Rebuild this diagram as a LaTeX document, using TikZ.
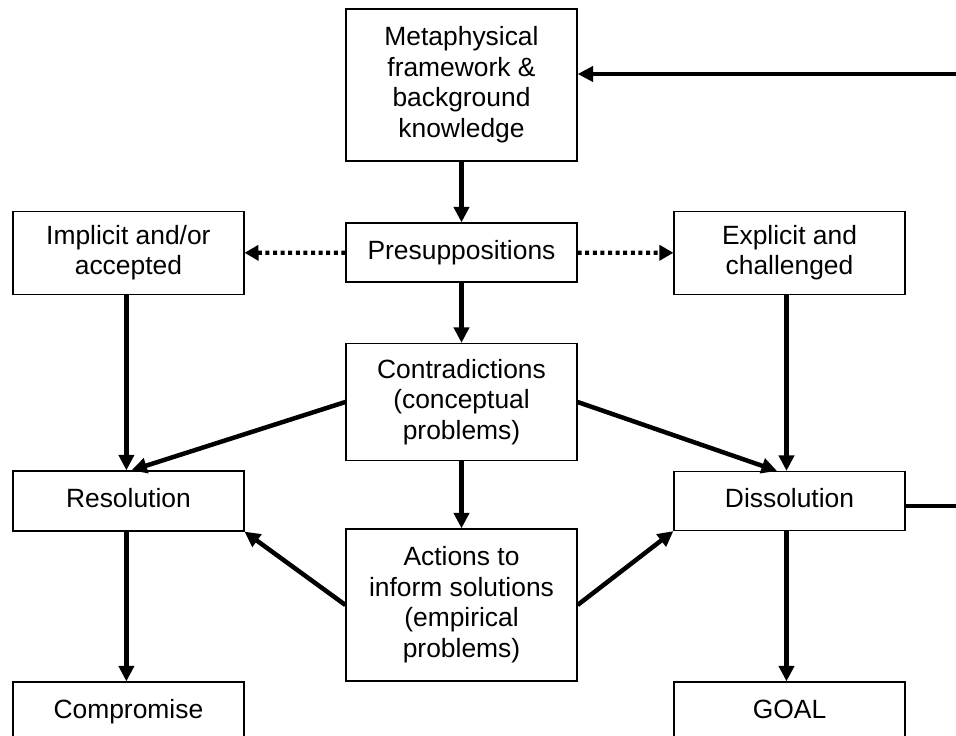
\documentclass[tikz,border=0pt]{standalone}
\usepackage{fontspec}
\setmainfont{Liberation Sans}
\usetikzlibrary{arrows.meta}
\begin{document}
\begin{tikzpicture}[x=1pt,y=-1pt,
  box/.style={draw, line width=1.2pt, minimum width=231pt, inner sep=0pt, align=center,
    font=\fontsize{26.4}{30.5}\selectfont, text depth=6pt},
  arr/.style={line width=4.5pt, -{Triangle[length=15.5pt,width=15pt]}},
  dotarr/.style={line width=4.3pt, dash pattern=on 4pt off 3.6pt, -{Triangle[length=14pt,width=15pt]}}]
\useasboundingbox (0,0) rectangle (956,736);
\clip (0,0) rectangle (956,736);
\fill[white] (0,0) rectangle (956,736);

\node[box, minimum height=152pt] (meta) at (461.5,85) {Metaphysical\\framework \&\\background\\knowledge};
\node[box, minimum height=59pt] (presup) at (461.5,252.5) {Presuppositions};
\node[box, minimum height=83pt] (impl) at (128.4,253) {Implicit and/or\\accepted};
\node[box, minimum height=83pt] (expl) at (789.5,253) {Explicit and\\challenged};
\node[box, minimum height=117pt] (contr) at (461.5,402) {Contradictions\\(conceptual\\problems)};
\node[box, minimum height=60pt] (resol) at (128.4,501) {Resolution};
\node[box, minimum height=59pt] (dissol) at (789.5,501) {Dissolution};
\node[box, minimum height=152pt] (act) at (461.5,605) {Actions to\\inform solutions\\(empirical\\problems)};
\node[box, minimum height=60pt] (compr) at (128.4,712) {Compromise};
\node[box, minimum height=60pt] (goal) at (789.5,712) {GOAL};

\draw[arr] (meta) -- (presup);
\draw[dotarr] (presup) -- (impl);
\draw[dotarr] (presup) -- (expl);
\draw[arr] (presup) -- (contr);
\draw[arr] ([xshift=-2pt]impl.south) -- ([xshift=-2pt]resol.north);
\draw[arr] ([xshift=-3pt]expl.south) -- ([xshift=-3pt]dissol.north);
\draw[arr] (contr.west) -- ([xshift=3pt]resol.north);
\draw[arr] (contr.east) -- ([xshift=-12.5pt]dissol.north);
\draw[arr] (contr) -- (act);
\draw[arr] (act.west) -- (resol.south east);
\draw[arr] (act.east) -- (dissol.south west);
\draw[arr] ([xshift=-2pt]resol.south) -- ([xshift=-2pt]compr.north);
\draw[arr] ([xshift=-3pt]dissol.south) -- ([xshift=-3pt]goal.north);
\draw[arr] ([yshift=-5pt]dissol.east) -- ++(95,0) |- ([yshift=11pt]meta.east);
\end{tikzpicture}
\end{document}
